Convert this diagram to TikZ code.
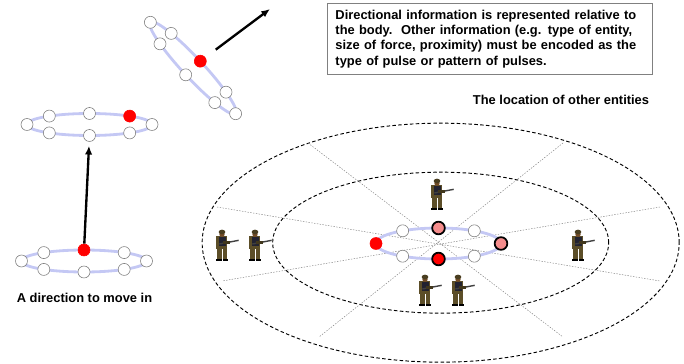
\documentclass[tikz,border=0pt]{standalone}
\usepackage{fontspec}
\setmainfont{Liberation Sans}
\usetikzlibrary{arrows.meta,positioning}
\definecolor{ringblue}{RGB}{196,200,244}
\definecolor{softred}{RGB}{244,140,140}
\definecolor{khaki}{RGB}{92,78,40}
\definecolor{vest}{RGB}{34,34,48}

\begin{document}
\begin{tikzpicture}[
  font=\fontsize{11}{13}\selectfont\bfseries,
  rng/.style={draw=ringblue, line width=2.4pt},
  bead/.style={circle, draw=gray, fill=white, line width=0.5pt,
               minimum size=0.36cm, inner sep=0pt},
  hot/.style={bead, draw=red, fill=red},
  hit/.style={bead, draw=black, line width=1.5pt, minimum size=0.38cm},
  zone/.style={draw=black, line width=0.8pt, dash pattern=on 3pt off 2pt},
  sect/.style={draw=gray, line width=0.4pt, dash pattern=on 1.2pt off 1.2pt},
  arr/.style={line width=2pt, -{Latex[length=2.6mm,width=2.2mm]}},
  info/.style={draw=gray, line width=0.8pt, text width=9.27cm, align=left,
               inner xsep=0.24cm, inner ysep=0.2cm},
  soldier/.pic={
    \fill[khaki] (-0.19,0.27) rectangle (0.16,-0.12);
    \fill[vest] (-0.09,0.25) rectangle (0.12,-0.02);
    \fill[khaki] (-0.16,-0.12) rectangle (-0.01,-0.41);
    \fill[khaki] (0.02,-0.12) rectangle (0.16,-0.41);
    \fill[black] (-0.17,-0.41) rectangle (-0.01,-0.48);
    \fill[black] (0.02,-0.41) rectangle (0.18,-0.48);
    \fill[brown!60!black] (0,0.32) circle (0.08);
    \fill[khaki!80!black] (0,0.39) ellipse (0.1 and 0.07);
    \draw[gray!50!black, line width=1.2pt] (-0.08,0.03) -- (0.5,0.14);
    \fill[khaki!70!black] (0.02,0.12) rectangle (0.24,0.03);
  }
]
\useasboundingbox (0,0) rectangle (20.52,-10.92);
% Zones round the body
\draw[zone] (13.22,-7.28) ellipse (7.155 and 3.585);
\draw[zone] (13.22,-7.28) ellipse (5.04 and 2.115);
% Sectors
\coordinate (s1a) at (9.24,-4.29);  \coordinate (s1b) at (16.89,-10.11);
\coordinate (s2a) at (16.89,-4.29); \coordinate (s2b) at (9.57,-10.11);
\coordinate (s3a) at (6.51,-6.21);  \coordinate (s3b) at (19.8,-8.43);
\coordinate (s4a) at (19.8,-6.21);  \coordinate (s4b) at (6.66,-8.43);
\draw[sect] (s1a) -- (s1b);
\draw[sect] (s2a) -- (s2b);
\draw[sect] (s3a) -- (s3b);
\draw[sect] (s4a) -- (s4b);
% Other entities
\pic at (13.11,-5.82) {soldier};
\pic at (12.75,-8.7) {soldier};
\pic at (13.74,-8.7) {soldier};
\pic at (6.66,-7.35) {soldier};
\pic at (7.65,-7.35) {soldier};
\pic at (17.34,-7.35) {soldier};
% Ring at rest
\begin{scope}[shift={(2.52,-7.83)}]
\draw[rng] (0,0) ellipse (1.875 and 0.33);
\node[bead] (a1) at (180:1.875 and 0.33) {};
\node[bead] (a2) at (130:1.875 and 0.33) {};
\node[hot]  (a3) at (90:1.875 and 0.33) {};
\node[bead] (a4) at (50:1.875 and 0.33) {};
\node[bead] (a5) at (0:1.875 and 0.33) {};
\node[bead] (a6) at (310:1.875 and 0.33) {};
\node[bead] (a7) at (270:1.875 and 0.33) {};
\node[bead] (a8) at (230:1.875 and 0.33) {};
\end{scope}
% Ring after the move
\begin{scope}[shift={(2.685,-3.735)}]
\draw[rng] (0,0) ellipse (1.875 and 0.33);
\node[bead] (b1) at (180:1.875 and 0.33) {};
\node[bead] (b2) at (130:1.875 and 0.33) {};
\node[bead] (b3) at (90:1.875 and 0.33) {};
\node[hot]  (b4) at (50:1.875 and 0.33) {};
\node[bead] (b5) at (0:1.875 and 0.33) {};
\node[bead] (b6) at (310:1.875 and 0.33) {};
\node[bead] (b7) at (270:1.875 and 0.33) {};
\node[bead] (b8) at (230:1.875 and 0.33) {};
\end{scope}
% Tilted ring
\begin{scope}[shift={(5.79,-2.04)}, rotate=-47]
\draw[rng] (0,0) ellipse (1.875 and 0.3);
\node[bead] (c1) at (180:1.875 and 0.3) {};
\node[bead] (c2) at (130:1.875 and 0.3) {};
\node[hot]  (c3) at (90:1.875 and 0.3) {};
\node[bead] (c4) at (50:1.875 and 0.3) {};
\node[bead] (c5) at (0:1.875 and 0.3) {};
\node[bead] (c6) at (310:1.875 and 0.3) {};
\node[bead] (c7) at (270:1.875 and 0.3) {};
\node[bead] (c8) at (230:1.875 and 0.3) {};
\end{scope}
% Ring among the entities
\begin{scope}[shift={(13.155,-7.305)}]
\draw[rng] (0,0) ellipse (1.875 and 0.465);
\node[hot]  (d1) at (180:1.875 and 0.465) {};
\node[bead] (d2) at (125:1.875 and 0.465) {};
\node[hit, fill=softred] (d3) at (90:1.875 and 0.465) {};
\node[bead] (d4) at (55:1.875 and 0.465) {};
\node[hit, fill=softred] (d5) at (0:1.875 and 0.465) {};
\node[bead] (d6) at (305:1.875 and 0.465) {};
\node[hit, fill=red] (d7) at (270:1.875 and 0.465) {};
\node[bead] (d8) at (235:1.875 and 0.465) {};
\end{scope}
% Arrows
\coordinate (aim) at (8.1,-0.27);
\draw[arr, shorten >=0.12cm] (a3) -- (b7);
\draw[arr, shorten <=0.39cm] (c3) -- (aim);
% Texts
\node (lblmove) at (2.535,-8.94) {A direction to move in};
\node (lblloc) at (16.83,-3.0) {The location of other entities};
\node[info, anchor=north west] (note) at (9.81,-0.09)
  {Directional information is represented relative to\\
   the body.\ \ Other information (e.g. type of entity,\\
   size of force, proximity) must be encoded as the\\
   type of pulse or pattern of pulses.};
\end{tikzpicture}
\end{document}
